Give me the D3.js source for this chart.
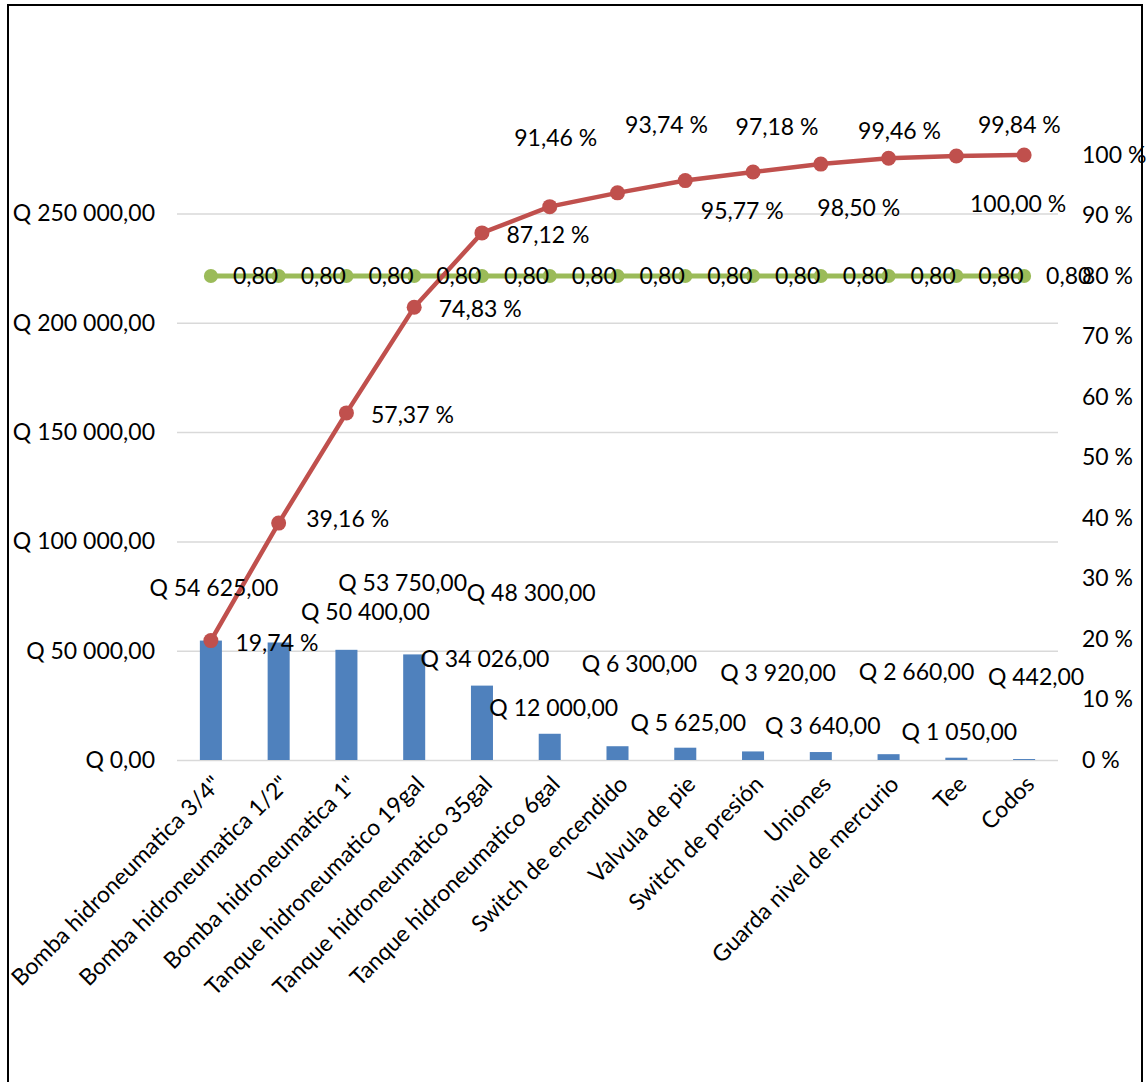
<!DOCTYPE html>
<html>
<head>
<meta charset="utf-8">
<script src="https://cdn.jsdelivr.net/npm/d3@7"></script>
<style>
  html, body { margin: 0; padding: 0; background: #fff; }
  svg text { font-family: Lato, "Liberation Sans", sans-serif; }
</style>
</head>
<body>
<svg id="chart" width="1147" height="1082"></svg>
<script>
// ---------- DATA ----------
const categories = [
  'Bomba hidroneumatica 3/4"', 'Bomba hidroneumatica 1/2"', 'Bomba hidroneumatica 1"',
  'Tanque hidroneumatico 19gal', 'Tanque hidroneumatico 35gal', 'Tanque hidroneumatico 6gal',
  'Switch de encendido', 'Valvula de pie', 'Switch de presión', 'Uniones',
  'Guarda nivel de mercurio', 'Tee', 'Codos'
];
const costs = [54625, 53750, 50400, 48300, 34026, 12000, 6300, 5625, 3920, 3640, 2660, 1050, 442];
const cumulativePct = [19.74, 39.16, 57.37, 74.83, 87.12, 91.46, 93.74, 95.77, 97.18, 98.50, 99.46, 99.84, 100.00];
const threshold = [0.80, 0.80, 0.80, 0.80, 0.80, 0.80, 0.80, 0.80, 0.80, 0.80, 0.80, 0.80, 0.80];
const leftTicks = [0, 50000, 100000, 150000, 200000, 250000];
const rightTicks = [0, 0.1, 0.2, 0.3, 0.4, 0.5, 0.6, 0.7, 0.8, 0.9, 1.0];

// ---------- LAYOUT (label placement, px offsets) ----------
const barLabelOffset = [[3,-53],[124,-60],[19,-38],[117,-61],[3,-27],[4,-26],[22,-82],[3,-25],[25,-78],[2,-26],[28,-82],[3,-26],[12,-82]];
const pctLabelOffset = [[66,2],[69,-4],[66,2],[66,2],[66,2],[6,-69],[49,-68],[57,30],[24,-45],[38,44],[11,-27],[63,-31],[-6,49]];

const W = 1147, H = 1082;
const plot = { left: 177, right: 1058, top: 155, bottom: 760 };
const FS = 23;

const svg = d3.select('#chart');

// outer border
svg.append('rect').attr('x', 8).attr('y', 5).attr('width', 1134).attr('height', 1100)
  .attr('fill', 'none').attr('stroke', '#000').attr('stroke-width', 2);

const locale = d3.formatLocale({ decimal: ',', thousands: ' ', grouping: [3], currency: ['Q ', ''] });
const fmtQ = locale.format('$,.2f');
const fmtNum = locale.format('.2f');

const total = d3.sum(costs);
const x = d3.scaleBand().domain(categories).range([plot.left, plot.right]).paddingInner(0.675).paddingOuter(0.3375);
const yL = d3.scaleLinear().domain([0, total]).range([plot.bottom, plot.top]);
const yR = d3.scaleLinear().domain([0, 1]).range([plot.bottom, plot.top]);
const cx = c => x(c) + x.bandwidth() / 2;

// gridlines + left axis
const leftAxis = d3.axisLeft(yL).tickValues(leftTicks).tickSize(-(plot.right - plot.left)).tickPadding(22).tickFormat(fmtQ);
const gL = svg.append('g').attr('transform', `translate(${plot.left},0)`).call(leftAxis);
gL.select('.domain').remove();
gL.selectAll('.tick line').attr('stroke', '#D9D9D9').attr('stroke-width', 1.5);
gL.selectAll('.tick text').attr('font-size', FS).attr('fill', '#000');

// right axis
const rightAxis = d3.axisRight(yR).tickValues(rightTicks).tickSize(0).tickPadding(24)
  .tickFormat(d => Math.round(d * 100) + ' %');
const gR = svg.append('g').attr('transform', `translate(${plot.right},0)`).call(rightAxis);
gR.select('.domain').remove();
gR.selectAll('.tick text').attr('font-size', FS).attr('fill', '#000');

// bottom axis labels
const bottomAxis = d3.axisBottom(x).tickSize(0).tickPadding(0);
const gB = svg.append('g').attr('transform', `translate(0,${plot.bottom})`).call(bottomAxis);
gB.select('.domain').remove();
gB.selectAll('.tick text')
  .attr('font-size', FS).attr('fill', '#000')
  .attr('text-anchor', 'end')
  .attr('transform', 'translate(6,20) rotate(-45)')
  .attr('y', 0).attr('dy', '0.35em');

// bars
svg.append('g').selectAll('rect').data(costs).join('rect')
  .attr('x', (d, i) => x(categories[i]))
  .attr('y', d => yL(d))
  .attr('width', x.bandwidth())
  .attr('height', d => yL(0) - yL(d))
  .attr('fill', '#4F81BD');

// threshold line (green)
const greenLine = d3.line().x((d, i) => cx(categories[i])).y(d => yR(d));
svg.append('path').datum(threshold).attr('d', greenLine)
  .attr('fill', 'none').attr('stroke', '#9BBB59').attr('stroke-width', 5);
svg.append('g').selectAll('circle').data(threshold).join('circle')
  .attr('cx', (d, i) => cx(categories[i])).attr('cy', d => yR(d)).attr('r', 7)
  .attr('fill', '#9BBB59');

// cumulative line (red)
const redLine = d3.line().x((d, i) => cx(categories[i])).y(d => yR(d / 100));
svg.append('path').datum(cumulativePct).attr('d', redLine)
  .attr('fill', 'none').attr('stroke', '#C0504D').attr('stroke-width', 4.5);
svg.append('g').selectAll('circle').data(cumulativePct).join('circle')
  .attr('cx', (d, i) => cx(categories[i])).attr('cy', d => yR(d / 100)).attr('r', 7.5)
  .attr('fill', '#C0504D');

// bar labels
svg.append('g').selectAll('text').data(costs).join('text')
  .attr('x', (d, i) => cx(categories[i]) + barLabelOffset[i][0])
  .attr('y', (d, i) => yL(d) + barLabelOffset[i][1])
  .attr('dy', '0.35em').attr('text-anchor', 'middle')
  .attr('font-size', FS).attr('fill', '#000')
  .text(d => fmtQ(d));

// threshold labels
svg.append('g').selectAll('text').data(threshold).join('text')
  .attr('x', (d, i) => cx(categories[i]) + 22)
  .attr('y', d => yR(d))
  .attr('dy', '0.35em').attr('text-anchor', 'start')
  .attr('font-size', FS).attr('fill', '#000')
  .text(d => fmtNum(d));

// cumulative % labels
svg.append('g').selectAll('text').data(cumulativePct).join('text')
  .attr('x', (d, i) => cx(categories[i]) + pctLabelOffset[i][0])
  .attr('y', (d, i) => yR(d / 100) + pctLabelOffset[i][1])
  .attr('dy', '0.35em').attr('text-anchor', 'middle')
  .attr('font-size', FS).attr('fill', '#000')
  .text(d => fmtNum(d) + ' %');
</script>
</body>
</html>
